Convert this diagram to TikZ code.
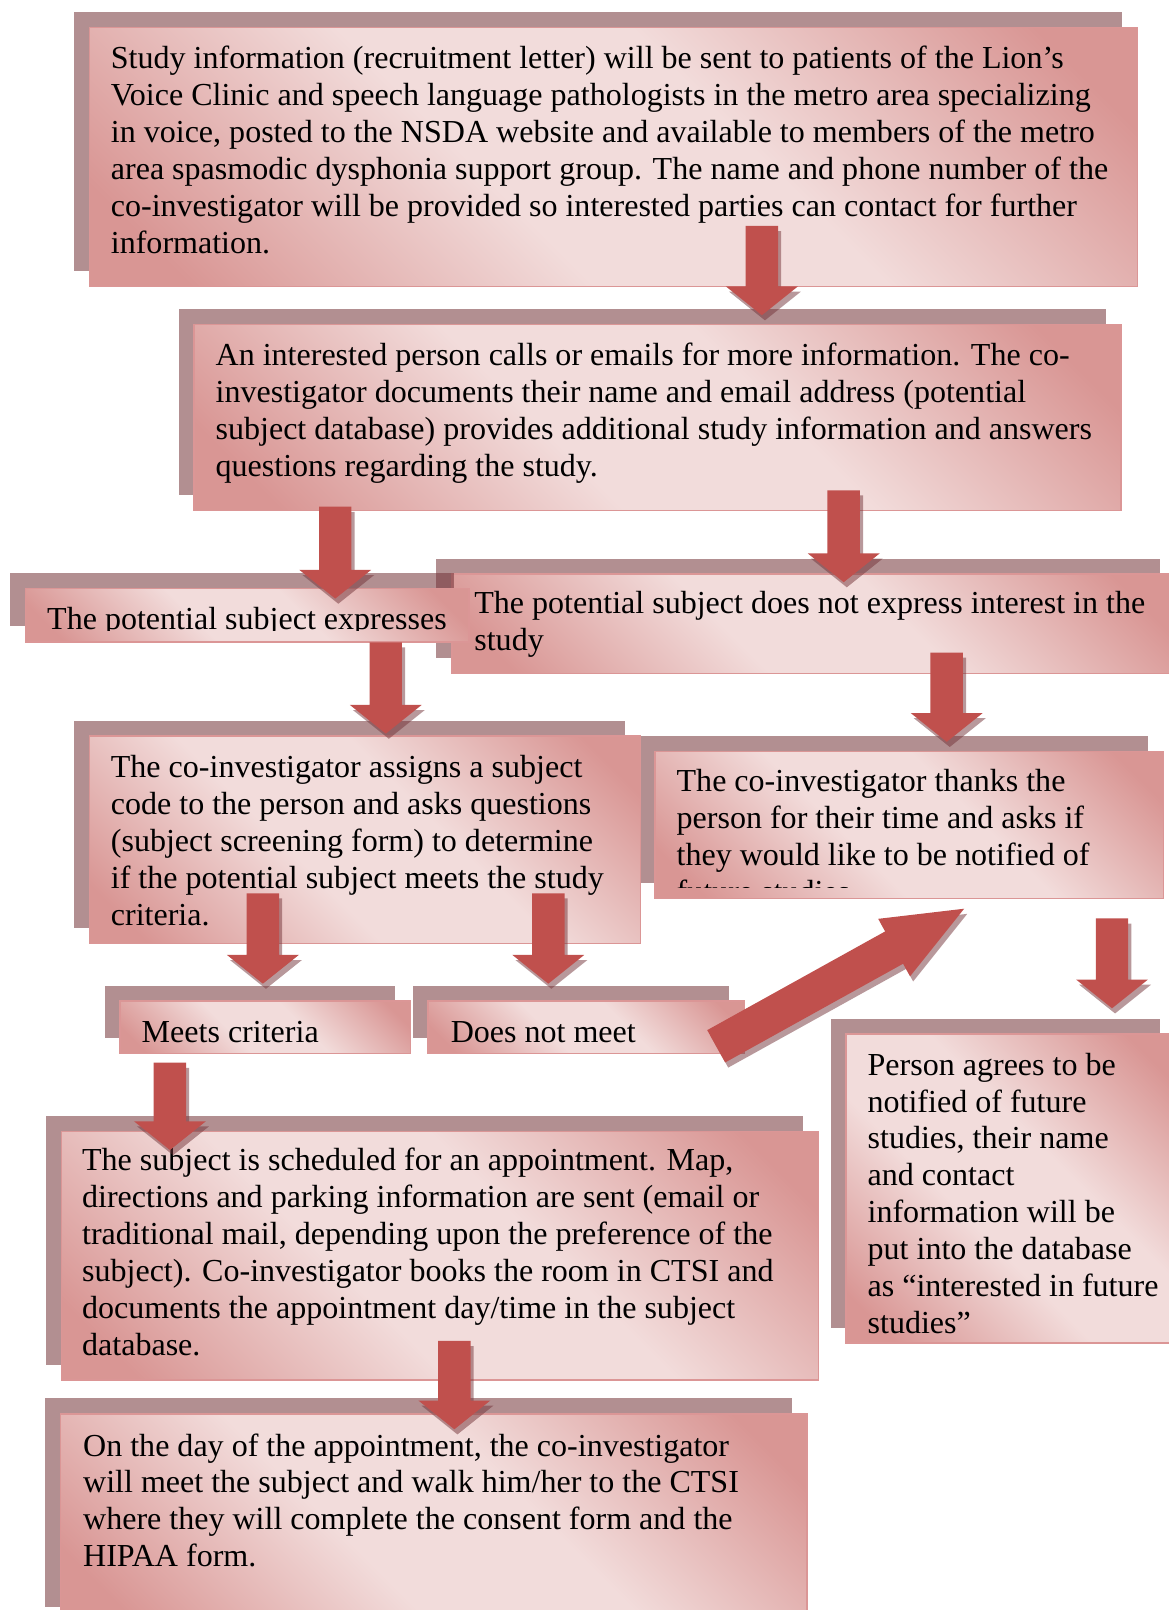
\documentclass[tikz,border=0pt]{standalone}
\usepackage{fontspec}
\setmainfont{Liberation Serif}
\usetikzlibrary{calc}
\definecolor{lt}{RGB}{242,220,219}
\definecolor{dk}{RGB}{217,150,148}
\definecolor{bord}{RGB}{219,150,150}
\definecolor{arr}{RGB}{192,80,77}
\definecolor{shd}{RGB}{115,51,56}
\pgfdeclareverticalshading{boxshade}{100bp}{color(0bp)=(dk); color(20bp)=(dk); color(42bp)=(lt); color(58bp)=(lt); color(80bp)=(dk); color(100bp)=(dk)}
\tikzset{
  boxshadow/.style={fill=shd, fill opacity=0.55},
  flowbox/.style={rectangle, shade, shading=boxshade, shading angle=-45, draw=bord, line width=1.5pt, inner sep=0pt, outer sep=0pt},
  boxtext/.style={anchor=north west, inner sep=0pt, outer sep=0pt, align=left, font=\fontsize{31.2}{36}\selectfont, text=black},
  arrowfill/.style={fill=arr},
  arrowshadow/.style={fill=shd, fill opacity=0.5},
}
% name x1 y1 x2 y2
\newcommand\fcBox[5]{%
  \fill[boxshadow] (#2-15,#3-15) rectangle (#4-15,#5-15);
  \node[flowbox, anchor=north west, minimum width={(#4-#2)*1pt}, minimum height={(#5-#3)*1pt}] (#1) at (#2,#3) {};
}
\newcommand\fcArrowPath[4]{($(#1)!#3!90:(#2)$) -- ($(tmpb)!#3!-90:(#1)$) -- ($(tmpb)!#4!-90:(#1)$) -- (#2) -- ($(tmpb)!#4!90:(#1)$) -- ($(tmpb)!#3!90:(#1)$) -- ($(#1)!#3!-90:(#2)$) -- cycle}
% tail tip shaft-halfwidth head-halfwidth head-length
\newcommand\fcBlockArrow[5]{%
  \coordinate (tmpb) at ($(#2)!#5!(#1)$);
  \begin{scope}[transform canvas={shift={(3pt,-5pt)}}]
    \fill[arrowshadow] \fcArrowPath{#1}{#2}{#3}{#4};
  \end{scope}
  \fill[arrowfill] \fcArrowPath{#1}{#2}{#3}{#4};
}
\begin{document}
\begin{tikzpicture}[x=1pt,y=-1pt]
\useasboundingbox (0,0) rectangle (1138,1568);
\fill[white] (0,0) rectangle (1138,1568);

% Box 1
\fcBox{b1}{87}{27}{1108}{279}
\node[boxtext] (t1) at (108,41.3) {\strut Study information (recruitment letter) will be sent to patients of the Lion’s\\Voice Clinic and speech language pathologists in the metro area specializing\\in voice, posted to the NSDA website and available to members of the metro\\area spasmodic dysphonia support group. The name and phone number of the\\co-investigator will be provided so interested parties can contact for further\\information.};

% Box 2
\fcBox{b2}{189}{316}{1092}{497}
\node[boxtext] (t2) at (210,330.8) {\strut An interested person calls or emails for more information. The co-\\investigator documents their name and email address (potential\\subject database) provides additional study information and answers\\questions regarding the study.};

% Box 4 (no interest)
\fcBox{b4}{440}{559}{1145}{656}
\node[boxtext] (t4) at (462,572.3) {\strut The potential subject does not express interest in the\\study};

% Box 3 (expresses interest)
\fcBox{b3}{25}{573}{457}{625}
\begin{scope}
  \clip (25,573) rectangle (457,614.5);
  \node[boxtext] (t3) at (46,587.8) {\strut The potential subject expresses};
\end{scope}

% Box 6 (thanks)
\fcBox{b6}{638}{732}{1133}{875}
\begin{scope}
  \clip (638,732) rectangle (1133,864);
  \node[boxtext] (t6) at (659,746.1) {\strut The co-investigator thanks the\\person for their time and asks if\\they would like to be notified of\\future studies};
\end{scope}

% Box 5 (screening)
\fcBox{b5}{87}{717}{624}{919}
\node[boxtext] (t5) at (108,731.8) {\strut The co-investigator assigns a subject\\code to the person and asks questions\\(subject screening form) to determine\\if the potential subject meets the study\\criteria.};

% Box 7, 8
\fcBox{b7}{117}{975}{400}{1026}
\node[boxtext] (t7) at (138,989.8) {\strut Meets criteria};
\fcBox{b8}{417}{975}{725}{1026}
\node[boxtext] (t8) at (439,989.8) {\strut Does not meet};

% Box 9
\fcBox{b9}{824}{1007}{1145}{1308}
\node[boxtext] (t9) at (845,1021.8) {\strut Person agrees to be\\notified of future\\studies, their name\\and contact\\information will be\\put into the database\\as “interested in future\\studies”};

% Box 10
\fcBox{b10}{60}{1102}{797}{1344}
\node[boxtext] (t10) at (80,1114.8) {\strut The subject is scheduled for an appointment. Map,\\directions and parking information are sent (email or\\traditional mail, depending upon the preference of the\\subject). Co-investigator books the room in CTSI and\\documents the appointment day/time in the subject\\database.};

% Box 11
\fcBox{b11}{59}{1377}{786}{1580}
\node[boxtext] (t11) at (81,1392.8) {\strut On the day of the appointment, the co-investigator\\will meet the subject and walk him/her to the CTSI\\where they will complete the consent form and the\\HIPAA form.};

% Arrow end points
\coordinate (a1s) at (742,220);    \coordinate (a1e) at (742,307);
\coordinate (a2s) at (326.5,493.5); \coordinate (a2e) at (326.5,583);
\coordinate (a3s) at (821.7,477.5); \coordinate (a3e) at (821.7,567);
\coordinate (a4s) at (375.7,625.5); \coordinate (a4e) at (375.7,714.5);
\coordinate (a5s) at (922,635.5);   \coordinate (a5e) at (922,722.5);
\coordinate (a6s) at (256,870);     \coordinate (a6e) at (256,958);
\coordinate (a7s) at (534,870);     \coordinate (a7e) at (534,958);
\coordinate (a8s) at (1083,894.5);  \coordinate (a8e) at (1083,982);
\coordinate (a9s) at (165.5,1035);  \coordinate (a9e) at (165.5,1120);
\coordinate (a10s) at (442.5,1306); \coordinate (a10e) at (442.5,1392);
\coordinate (dgs) at (697.5,1019);  \coordinate (dge) at (939,885);

\fcBlockArrow{a1s}{a1e}{15.8pt}{35pt}{28pt}
\fcBlockArrow{a2s}{a2e}{15.8pt}{35pt}{28pt}
\fcBlockArrow{a3s}{a3e}{15.8pt}{35pt}{28pt}
\fcBlockArrow{a4s}{a4e}{15.8pt}{35pt}{28pt}
\fcBlockArrow{a5s}{a5e}{15.8pt}{35pt}{28pt}
\fcBlockArrow{a6s}{a6e}{15.8pt}{35pt}{28pt}
\fcBlockArrow{a7s}{a7e}{15.8pt}{35pt}{28pt}
\fcBlockArrow{a8s}{a8e}{15.8pt}{35pt}{28pt}
\fcBlockArrow{a9s}{a9e}{15.8pt}{35pt}{28pt}
\fcBlockArrow{a10s}{a10e}{15.8pt}{35pt}{28pt}
\fcBlockArrow{dgs}{dge}{18pt}{32pt}{78pt}
\end{tikzpicture}
\end{document}
